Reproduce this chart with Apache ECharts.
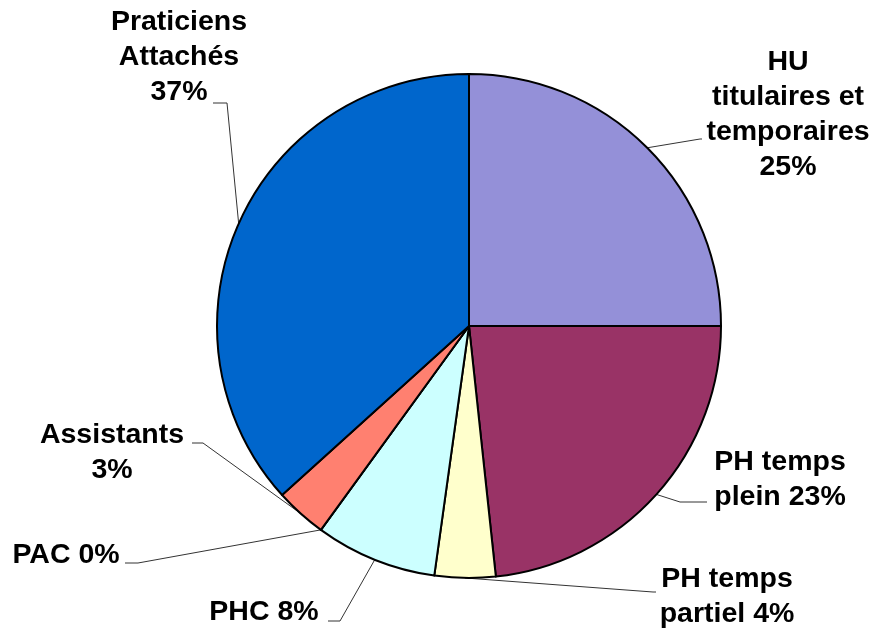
<!DOCTYPE html>
<html>
<head>
<meta charset="utf-8">
<script src="https://cdn.jsdelivr.net/npm/echarts@6/dist/echarts.min.js"></script>
<style>
  html, body { margin: 0; padding: 0; background: #fff; }
  #pie { width: 875px; height: 630px; }
</style>
</head>
<body>
<div id="pie"></div>
<script>
  // parts des effectifs (%), dans l'ordre des secteurs, sens horaire depuis midi
  var categories = ['HU\ntitulaires et\ntemporaires', 'PH temps\nplein', 'PH temps\npartiel', 'PHC', 'PAC', 'Assistants', 'Praticiens\nAttachés'];
  var values = [25, 23.3, 3.9, 7.8, 0, 3.3, 36.7];
  var colors = ['#9490D8', '#993366', '#FFFFCC', '#CCFFFF', '#660066', '#FF8070', '#0066CC'];

  // separateur entre le nom et le pourcentage
  var sep = ['\n', ' ', ' ', ' ', ' ', '\n', '\n'];

  // placement des etiquettes : centre du texte + coude et bout du trait
  var labelPos = [
    { x: 788, y: 115, bend: [700, 139], end: [702, 139] },
    { x: 780, y: 480, bend: [680, 502], end: [707, 502] },
    { x: 727, y: 597, bend: [653, 592], end: [656, 592] },
    { x: 264, y: 612, bend: [340, 621], end: [328, 621] },
    { x: 66, y: 555, bend: [138, 563], end: [125, 563] },
    { x: 112, y: 453, bend: [203, 443], end: [192, 443] },
    { x: 179, y: 57, bend: [227, 103], end: [213, 103] }
  ];

  var chart = echarts.init(document.getElementById('pie'));

  var option = {
    animation: false,
    series: [{
      type: 'pie',
      center: [469, 326],
      radius: 252,
      startAngle: 90,
      clockwise: true,
      avoidLabelOverlap: false,
      stillShowZeroSum: true,
      minShowLabelAngle: -1,
      data: categories.map(function (c, i) {
        return { name: c, value: values[i], itemStyle: { color: colors[i] } };
      }),
      itemStyle: { borderColor: '#000', borderWidth: 2 },
      label: {
        show: true,
        position: 'outside',
        color: '#000',
        fontFamily: 'Liberation Sans, Arial, sans-serif',
        fontWeight: 'bold',
        fontSize: 28.5,
        lineHeight: 35,
        formatter: function (p) {
          return p.name + sep[p.dataIndex] + Math.round(p.percent) + '%';
        }
      },
      labelLine: {
        show: true,
        length: 10,
        length2: 10,
        lineStyle: { color: '#333', width: 1 }
      },
      labelLayout: function (params) {
        var lp = labelPos[params.dataIndex];
        var anchor = params.labelLinePoints ? params.labelLinePoints[0] : [lp.bend[0], lp.bend[1]];
        return {
          x: lp.x,
          y: lp.y,
          align: 'center',
          verticalAlign: 'middle',
          labelLinePoints: [anchor, lp.bend, lp.end]
        };
      },
      emphasis: { disabled: true }
    }]
  };

  chart.setOption(option);
</script>
</body>
</html>
